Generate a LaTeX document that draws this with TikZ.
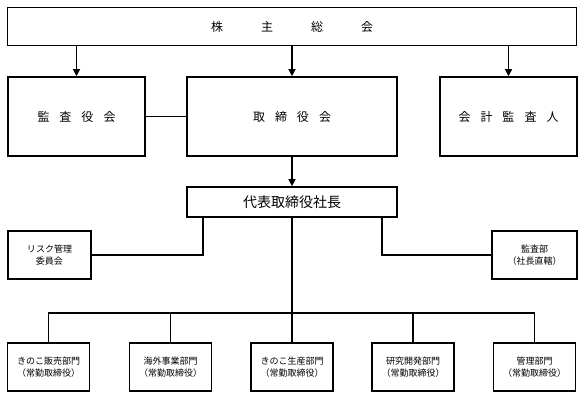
\documentclass[tikz,border=0pt]{standalone}
\usepackage{fontspec}
\setmainfont{Noto Sans CJK JP}
\usetikzlibrary{arrows.meta}
\tikzset{
  box/.style={draw, line width=1.6pt, inner sep=0pt, align=center},
  small/.style={font=\fontsize{9}{12.5}\selectfont},
  big/.style={font=\fontsize{12}{14}\selectfont},
  conn/.style={line width=1.2pt},
  arr/.style={conn, -{Triangle[length=7pt,width=7pt]}}
}
\begin{document}
\begin{tikzpicture}[x=1pt,y=-1pt]
\useasboundingbox (0,0) rectangle (583,398);
% top row
\node[box,big,minimum width=569pt,minimum height=38pt] (top) at (292,26.5) {株\hspace{38pt}主\hspace{38pt}総\hspace{38pt}会};
% second row
\node[box,big,minimum width=137pt,minimum height=79pt] (kansa) at (76.5,116.5) {監\hspace{10pt}査\hspace{10pt}役\hspace{10pt}会};
\node[box,big,minimum width=210pt,minimum height=79pt] (tori) at (292,116.5) {取\hspace{10pt}締\hspace{10pt}役\hspace{10pt}会};
\node[box,big,minimum width=137pt,minimum height=79pt] (kaikei) at (508.5,116.5) {会\hspace{10pt}計\hspace{10pt}監\hspace{10pt}査\hspace{10pt}人};
% president
\node[box,font=\fontsize{14}{16}\selectfont,minimum width=210pt,minimum height=30pt] (daihyo) at (292,202) {代表取締役社長};
% side boxes
\node[box,small,minimum width=83pt,minimum height=48pt] (risk) at (49.5,255) {リスク管理\\委員会};
\node[box,small,minimum width=85pt,minimum height=48pt] (kansabu) at (534.5,255) {監査部\\（社長直轄）};
% bottom boxes
\node[box,small,minimum width=82pt,minimum height=48pt] (b1) at (48.5,367) {きのこ販売部門\\（常勤取締役）};
\node[box,small,minimum width=82pt,minimum height=48pt] (b2) at (170.5,367) {海外事業部門\\（常勤取締役）};
\node[box,small,minimum width=82pt,minimum height=48pt] (b3) at (292,367) {きのこ生産部門\\（常勤取締役）};
\node[box,small,minimum width=82pt,minimum height=48pt] (b4) at (413,367) {研究開発部門\\（常勤取締役）};
\node[box,small,minimum width=82pt,minimum height=48pt] (b5) at (534.5,367) {管理部門\\（常勤取締役）};
\coordinate (bus) at (292,313);
% connectors
\draw[arr] (top.south -| kansa.north) -- (kansa.north);
\draw[arr] (top.south) -- (tori.north);
\draw[arr] (top.south -| kaikei.north) -- (kaikei.north);
\draw[conn] (kansa.east) -- (tori.west);
\draw[arr] (tori.south) -- (daihyo.north);
\draw[conn] ([xshift=-89pt]daihyo.south) |- (risk.east);
\draw[conn] ([xshift=90pt]daihyo.south) |- (kansabu.west);
\draw[conn] (daihyo.south) -- (b3.north);
\draw[conn] (b1.north) |- (bus) -| (b5.north);
\draw[conn] (b2.north) -- (b2.north |- bus);
\draw[conn] (b4.north) -- (b4.north |- bus);
\end{tikzpicture}
\end{document}
